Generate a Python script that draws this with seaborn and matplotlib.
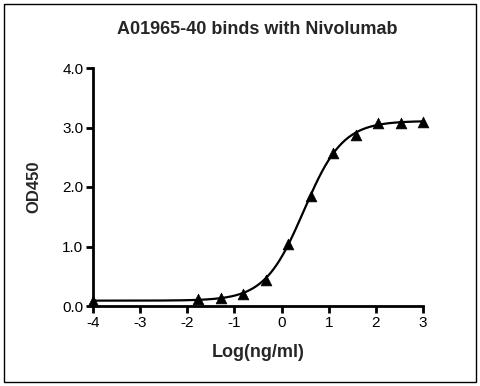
import numpy as np
import pandas as pd
import matplotlib
matplotlib.use("Agg")
import matplotlib.pyplot as plt
import seaborn as sns
from matplotlib.patches import Rectangle

# Data
log_conc = [-4.0, -1.771, -1.294, -0.816, -0.339, 0.138, 0.615, 1.092, 1.569, 2.046, 2.523, 3.0]
od450 = [0.09, 0.11, 0.14, 0.20, 0.43, 1.05, 1.85, 2.57, 2.87, 3.07, 3.08, 3.10]

# 4PL fit parameters
fit_bottom = 0.09
fit_top = 3.11
fit_logec50 = 0.47
fit_hill = 1.05

title = "A01965-40 binds with Nivolumab"
xlabel = "Log(ng/ml)"
ylabel = "OD450"
xticks = [-4, -3, -2, -1, 0, 1, 2, 3]
yticks = [0.0, 1.0, 2.0, 3.0, 4.0]

sns.set_style("ticks")
plt.rcParams['font.family'] = ['Liberation Sans', 'DejaVu Sans']

fig = plt.figure(figsize=(4.8, 3.86), dpi=100)
ax = fig.add_axes([93/480, 1-306/386, (423-93)/480, (306-68)/386])

df = pd.DataFrame({"x": log_conc, "y": od450})
xs = np.linspace(-4, 3, 400)
ys = fit_bottom + (fit_top - fit_bottom) / (1 + 10 ** (fit_hill * (fit_logec50 - xs)))
curve = pd.DataFrame({"x": xs, "y": ys})

sns.lineplot(data=curve, x="x", y="y", ax=ax, color="black", linewidth=1.6)
sns.scatterplot(data=df, x="x", y="y", ax=ax, marker="^", color="black", s=60,
                edgecolor="black", linewidth=0.5, zorder=5, clip_on=False)

ax.set_xlim(-4, 3)
ax.set_ylim(0, 4)
ax.set_xticks(xticks)
ax.set_xticklabels([str(t) for t in xticks])
ax.set_yticks(yticks)
ax.set_yticklabels([f"{t:.1f}" for t in yticks])
for s in ["top", "right"]:
    ax.spines[s].set_visible(False)
for s in ["left", "bottom"]:
    ax.spines[s].set_linewidth(2)
    ax.spines[s].set_color("black")
ax.tick_params(axis="both", width=2, length=5, labelsize=11, color="black", labelcolor="black", pad=2)

ax.set_xlabel(xlabel, fontsize=13, fontweight="bold", labelpad=10)
ax.set_ylabel(ylabel, fontsize=12, fontweight="bold", labelpad=15)
fig.text(257/480, 1-30/386, title, ha="center", va="center", fontsize=13, fontweight="bold")

fig.patches.append(Rectangle((4/480, 4/386), 472/480, 378/386, transform=fig.transFigure,
                             fill=False, edgecolor="black", linewidth=1))

fig.savefig("out.png", dpi=100)
